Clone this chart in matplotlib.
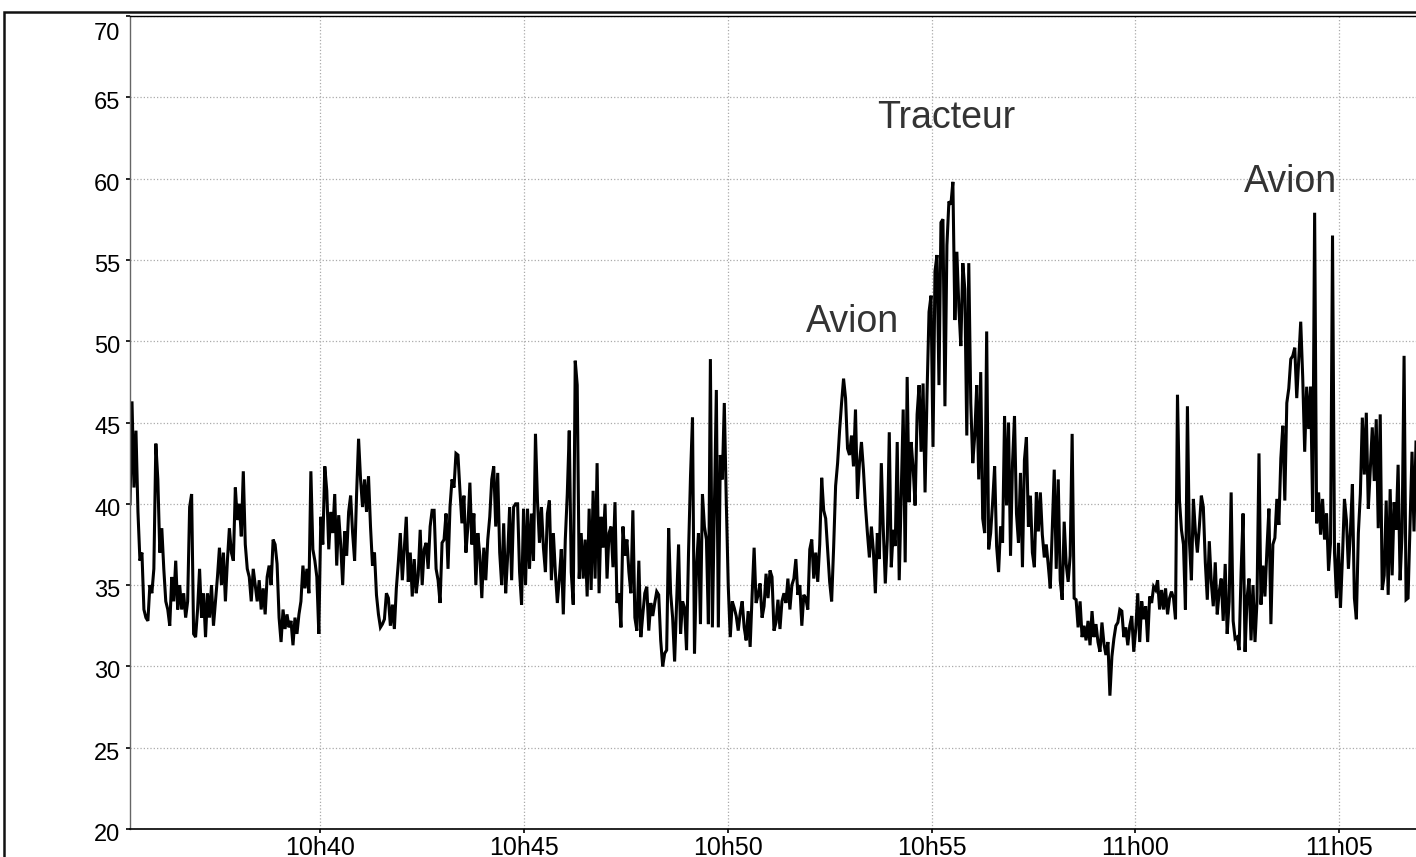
import matplotlib
matplotlib.use("Agg")
import matplotlib.pyplot as plt
import matplotlib.dates as mdates
from matplotlib.transforms import ScaledTranslation
import pandas as pd

# sound level (dB), evenly spaced readings from 10:35:20 to 11:06:53
lvl_1035 = [40, 46.3, 41, 44.5, 39.5, 36.5, 37, 33.5, 33, 32.8, 35, 34.5, 36, 43.7, 41.5, 37,
            38.5, 36, 34, 33.5, 32.5, 35.5, 34, 36.5, 33.5, 35, 33.5, 34.5, 33, 34, 39.8, 40.6,
            32, 31.8, 33.5, 36, 33, 34.5, 31.8, 34.5, 33, 35, 32.5, 34, 35.5, 37.3, 35, 37,
            34, 36.5, 38.5, 37, 36.5, 41, 39, 40, 38, 42, 37.5, 36, 35.5, 34, 36, 35, 34]
lvl_1038 = [35.3, 33.5, 34.8, 33.2, 35.5, 36.2, 35, 37.8, 37.5, 36.3, 33, 31.5, 33.5, 32.3, 33.2, 32.4,
            32.8, 31.3, 33, 32, 33.2, 34, 36.2, 34.8, 36, 34.5, 42, 37.2, 36.5, 35.5, 32, 39.2,
            37.5, 42.3, 40.8, 37.2, 39.5, 38.2, 40.6, 36.2, 39.3, 37.5, 35, 38.3, 36.8, 39.5, 40.5, 38.2,
            36.5, 40.6, 44, 41.5, 39.8, 41.5, 39.5, 41.7, 38.6, 36.2, 37, 34.4, 33.2, 32.4, 32.6, 32.9, 34.5]
lvl_1041 = [34.2, 32.5, 33.8, 32.3, 34.8, 36.4, 38.2, 35.3, 37.3, 39.2, 35.2, 37, 34.3, 36.6, 34.5, 35.6,
            38.4, 35, 37.2, 37.6, 36, 38.6, 39.6, 39.6, 36, 35.3, 33.9, 37.6, 37.8, 39.4, 36, 39.8,
            41.5, 41, 43.1, 43, 40.8, 38.8, 40.5, 37, 38.6, 41.3, 37.5, 39.4, 35, 38.2, 36.8, 34.2,
            37.3, 35.3, 37.8, 39.2, 41.5, 42.3, 38.6, 41.9, 37, 35, 38.8, 34.5, 36.8, 39.8, 35.3, 39.8, 40]
lvl_1045 = [40, 35.8, 33.8, 39.7, 35, 39.7, 36, 39.4, 36.5, 44.3, 40.2, 37.6, 39.8, 37.3, 35.8, 39.4,
            40.2, 35.3, 38.2, 35.8, 33.9, 35.4, 37.2, 33.2, 37.8, 40.6, 44.5, 35.8, 33.8, 48.8, 47.3, 35.4,
            38.2, 35.4, 37.8, 34.3, 39.7, 34.7, 40.8, 35.4, 42.5, 34.5, 39.2, 37.3, 40, 35.4, 38.2, 38.6,
            36.1, 40.1, 33.9, 34.5, 32.4, 38.6, 36.8, 37.8, 35.8, 34.5, 39.6, 33, 32.2, 36.5, 31.8, 33.2, 34.5]
lvl_1048 = [34.9, 32.2, 33.9, 33.1, 33.9, 34.6, 34.4, 31.6, 30, 30.8, 31, 38.5, 34.5, 33, 30.3, 33.9,
            37.5, 32, 34, 33.6, 31, 37, 41.7, 45.3, 30.8, 36.1, 38.2, 32.6, 40.6, 38.6, 37.8, 32.6,
            48.9, 32.4, 39.8, 47, 32.4, 43, 41.5, 46.2, 40.1, 34.9, 31.8, 34, 33.6, 33.1, 32.2, 33.3,
            34, 32.4, 31.6, 33.4, 31.2, 34.4, 37.3, 33.9, 34.4, 35.1, 33, 33.7, 35.7, 34.2, 35.9, 35.5, 32.2]
lvl_1051 = [32.7, 34.1, 32.3, 34, 34.5, 33.9, 35.4, 33.5, 35, 35.4, 36.6, 34.4, 35, 32.5, 34.4, 34.2,
            33.5, 37.2, 37.8, 35.4, 37, 35.2, 37.5, 41.6, 39.6, 39.1, 37.2, 35.2, 34, 37.3, 41.1, 42.5,
            44.5, 46.2, 47.7, 46.5, 43.4, 43, 44.2, 42.3, 45.8, 40.3, 42.5, 43.8, 42.1, 39.9, 38.2, 36.7,
            38.6, 37.1, 34.5, 38.2, 36.6, 42.5, 38.4, 35.1, 37.8, 44.4, 36.1, 38.4, 37.4, 43.8, 35.3, 40.5, 45.8]
lvl_1054 = [36.4, 47.8, 40.1, 43.8, 42.2, 39.9, 45.5, 47.3, 43.2, 47.4, 40.7, 46.8, 51.8, 52.8, 43.5, 54.3,
            55.3, 47.3, 57.3, 57.5, 46, 55.9, 58.6, 58.4, 59.8, 51.3, 55.5, 52.1, 49.7, 54.8, 53.2, 44.2,
            54.8, 46.2, 42.5, 44.2, 47.3, 41.5, 48.1, 39.1, 38.2, 50.6, 37.2, 38.2, 40.1, 42.3, 37.4, 35.8,
            38.6, 37.6, 45.4, 39.9, 45, 36.8, 42.5, 45.4, 39.4, 37.6, 41.9, 36.1, 42.7, 44.1, 38.6, 40.5, 37]
lvl_1057 = [36.1, 40.7, 38.3, 40.7, 38.1, 36.7, 37.5, 36.2, 34.8, 38.4, 42.1, 36, 41.5, 35.3, 34.1, 38.9,
            36.3, 35.2, 36.8, 44.3, 34.2, 34.1, 32.4, 34, 31.8, 32.5, 31.6, 32.8, 31.3, 33.4, 31.8, 32.6,
            31.5, 30.9, 32.7, 31.4, 30.7, 31.5, 28.2, 30.6, 31.7, 32.5, 32.7, 33.5, 33.4, 31.8, 32.4, 31.3,
            32.5, 33.1, 30.9, 32.3, 34.5, 31.5, 34, 32.9, 33.7, 31.5, 34.3, 33.9, 34.9, 34.7, 35.3, 33.5, 34.7]
lvl_1100 = [33.5, 34.8, 33.2, 34.2, 34.6, 34.2, 32.9, 46.7, 40.2, 38.4, 37.5, 33.5, 46, 37.7, 35.3, 40.3,
            38.3, 37, 38.6, 40.5, 39.8, 36.4, 34.1, 37.7, 35.2, 33.7, 36.4, 33.2, 34.6, 35.4, 32.8, 36.3,
            32, 34, 40.7, 32.8, 31.7, 31.8, 31, 35.8, 39.4, 30.9, 34.2, 35.4, 31.6, 35, 31.5, 34,
            43.1, 33.8, 36.2, 34.3, 37.2, 39.7, 32.6, 37.5, 37.9, 40.3, 38.7, 42.8, 44.8, 40.2, 46.2, 47.1, 48.9]
lvl_1104 = [49.1, 49.6, 46.5, 48.8, 51.2, 47.8, 43.2, 47.2, 44.6, 47.2, 39.5, 57.9, 38.8, 40.7, 38.1, 40.3,
            37.8, 39.4, 35.9, 37.6, 56.5, 37, 34.2, 37.6, 33.6, 36.7, 40.3, 39, 36, 38.3, 41.2, 34.2,
            32.9, 38.2, 40.6, 45.3, 41.8, 45.6, 39.7, 42.1, 44.7, 41.4, 45.2, 38.5, 45.5, 34.7, 35.6, 40.2,
            34.4, 40.9, 35.6, 40.1, 38.4, 42.4, 35.3, 38.2, 49.1, 34.1, 34.2, 38.6, 43.2, 38.3, 43.8]

levels = (lvl_1035 + lvl_1038 + lvl_1041 + lvl_1045 + lvl_1048
          + lvl_1051 + lvl_1054 + lvl_1057 + lvl_1100 + lvl_1104)

start = '2021-06-07 10:35:20'
end = '2021-06-07 11:06:53'
times = pd.date_range(start, end, periods=len(levels))

# labels on the chart: text, time, level
notes = [('Avion', '10:53:04', 51.2), ('Tracteur', '10:55:22', 63.7), ('Avion', '11:03:48', 59.8)]

plt.rcParams['font.family'] = ['Liberation Sans', 'DejaVu Sans']

fig = plt.figure(figsize=(14.16, 8.57), dpi=100)
ax = fig.add_axes([130 / 1416, 1 - 829 / 857, 1 - 130 / 1416, (829 - 16) / 857])

ax.plot(times, levels, color='black', linewidth=2.2, solid_joinstyle='miter')

for txt, hhmm, lvl in notes:
    ax.text(pd.Timestamp('2021-06-07 ' + hhmm), lvl, txt, fontsize=27, color='#333333',
            ha='center', va='center')

ax.set_xlim(pd.Timestamp(start), pd.Timestamp(end))
ax.set_ylim(20, 70)
ax.set_yticks(range(20, 71, 5))
ax.xaxis.set_major_locator(mdates.MinuteLocator(byminute=range(0, 60, 5)))
ax.xaxis.set_major_formatter(mdates.DateFormatter('%Hh%M'))

ax.grid(True, color='#aaaaaa', linestyle=':', linewidth=0.9)
ax.tick_params(axis='both', length=3, width=1.2, color='black')
ax.tick_params(axis='y', pad=4, labelsize=17)
ax.tick_params(axis='x', pad=2, labelsize=18)
ax.spines['right'].set_visible(False)
ax.spines['left'].set_color('#666666')
ax.spines['left'].set_linewidth(1.0)
ax.spines['top'].set_linewidth(1.0)
ax.spines['bottom'].set_linewidth(1.2)

# the y labels sit a little below their ticks, the top one most of all
for lab in ax.get_yticklabels():
    drop = 11 if lab.get_text() == '70' else 2.5
    lab.set_transform(lab.get_transform() + ScaledTranslation(0, -drop / 72, fig.dpi_scale_trans))

# outer frame round the whole chart
frame = plt.Rectangle((4 / 1416, -0.1), 1.2, 1 - 12 / 857 + 0.1, transform=fig.transFigure,
                      fill=False, edgecolor='#111111', linewidth=1.8)
fig.patches.append(frame)

fig.savefig('out.png', dpi=100)
